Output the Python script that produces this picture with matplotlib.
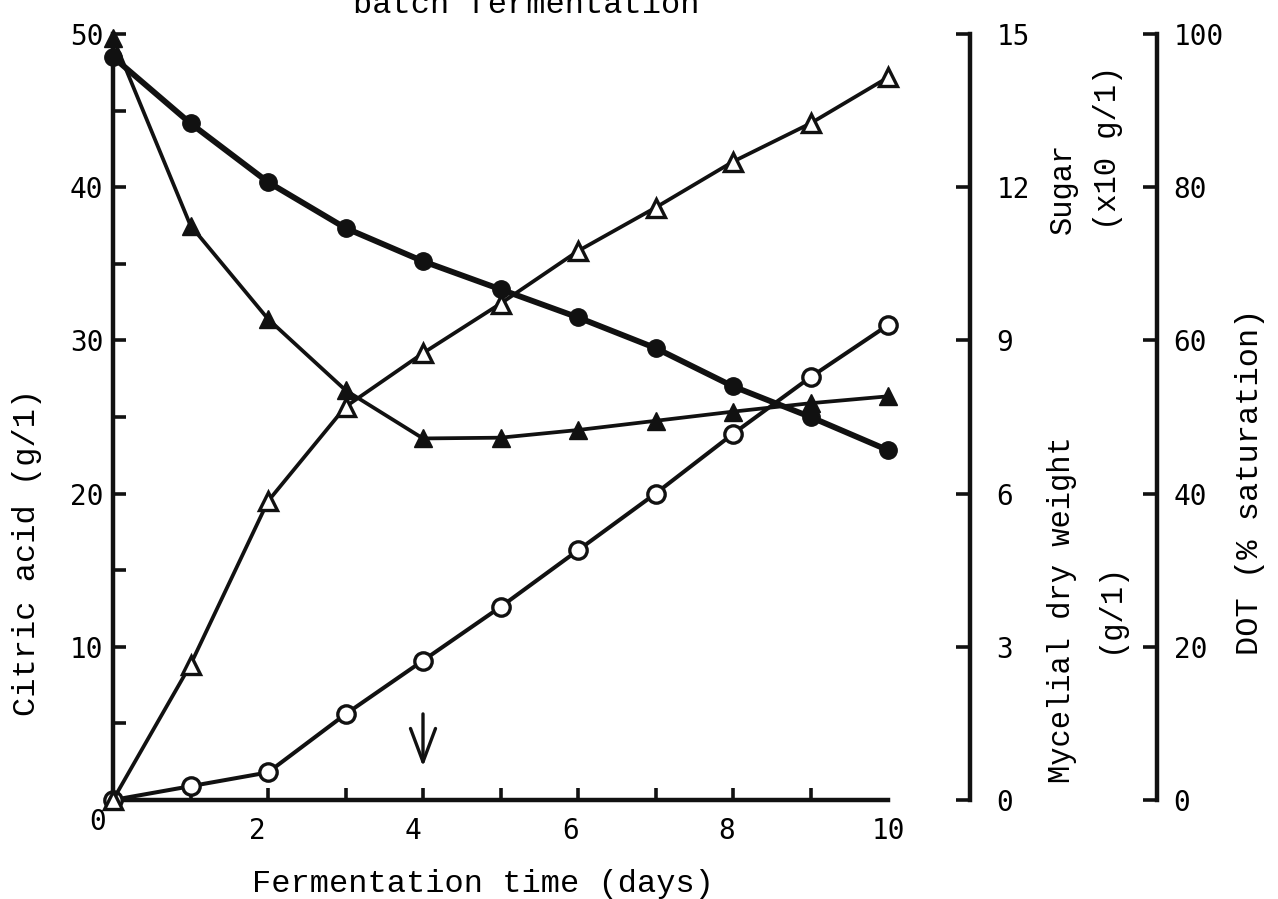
import matplotlib.pyplot as plt

days = [0, 1, 2, 3, 4, 5, 6, 7, 8, 9, 10]
citric_acid = [0, 0.9, 1.8, 5.6, 9.1, 12.6, 16.3, 20.0, 23.9, 27.6, 31.0]        # g/l
sugar = [14.55, 13.25, 12.1, 11.2, 10.55, 10.0, 9.45, 8.85, 8.1, 7.5, 6.85]      # x10 g/l
mycelium = [0, 2.65, 5.85, 7.7, 8.75, 9.72, 10.75, 11.6, 12.5, 13.25, 14.15]     # g/l
dot = [99.5, 75.0, 62.8, 53.5, 47.2, 47.3, 48.3, 49.5, 50.7, 51.8, 52.7]         # % saturation

x_ticks = [0, 1, 2, 3, 4, 5, 6, 7, 8, 9, 10]
# the typed day labels sit a little left of their tick marks in the original
x_label_pos = [1.86, 3.87, 5.9, 7.92, 10.0]
x_labels = ["2", "4", "6", "8", "10"]
left_ticks = [0, 5, 10, 15, 20, 25, 30, 35, 40, 45, 50]
left_labels = ["", "", "10", "", "20", "", "30", "", "40", "", "50"]
sugar_ticks = [0, 3, 6, 9, 12, 15]
dot_ticks = [0, 20, 40, 60, 80, 100]

W, H = 1278, 899
plt.rcParams["font.family"] = "DejaVu Sans Mono"
lab_font = "Liberation Mono"
ink = "#111111"

fig = plt.figure(figsize=(W / 100, H / 100), dpi=100)
ax = fig.add_axes([113 / W, 1 - 800 / H, 775 / W, 766 / H])
ax.set_xlim(0, 10)
ax.set_ylim(0, 50)
ax2 = ax.twinx()
ax2.set_ylim(0, 15)
ax3 = ax.twinx()
ax3.set_ylim(0, 100)

# spines
for s in ["top", "right"]:
    ax.spines[s].set_visible(False)
for a, pos in [(ax2, 1.106), (ax3, 1.347)]:
    for s in ["top", "left", "bottom"]:
        a.spines[s].set_visible(False)
    a.spines["right"].set_position(("axes", pos))
    a.spines["right"].set_linewidth(3.2)
    a.spines["right"].set_color(ink)
for s in ["left", "bottom"]:
    ax.spines[s].set_linewidth(3.2)
    ax.spines[s].set_color(ink)

# data
ax2.plot(days, sugar, color=ink, lw=4.2, marker="o", ms=12.5, mfc=ink, mec=ink, clip_on=False, zorder=3)
ax3.plot(days, dot, color=ink, lw=2.7, marker="^", ms=13.5, mfc=ink, mec=ink, clip_on=False, zorder=3)
ax2.plot(days, mycelium, color=ink, lw=2.7, marker="^", ms=13.5, mfc="white", mec=ink, mew=2.4, clip_on=False, zorder=4)
ax.plot(days, citric_acid, color=ink, lw=2.9, marker="o", ms=12.5, mfc="white", mec=ink, mew=2.4, clip_on=False, zorder=4)

# ticks
ax.set_xticks(x_ticks, minor=True)
ax.set_xticks(x_label_pos)
ax.set_xticklabels(x_labels)
ax.tick_params(axis="x", which="minor", direction="in", length=9, width=2.6, color=ink)
ax.tick_params(axis="x", which="major", length=0, labelsize=20, pad=12)
ax.set_yticks(left_ticks)
ax.set_yticklabels(left_labels)
ax.tick_params(axis="y", direction="in", length=9, width=2.6, labelsize=20, pad=7, color=ink)

ax2.set_yticks(sugar_ticks)
ax2.tick_params(axis="y", direction="in", length=10, width=2.6, labelsize=20, pad=19, color=ink)
ax3.set_yticks(dot_ticks)
ax3.tick_params(axis="y", direction="in", length=10, width=2.6, labelsize=20, pad=12, color=ink)

fig.text(98 / W, 1 - 822 / H, "0", ha="center", va="center", fontsize=20)

# arrow at day 4
ax.annotate("", xy=(4.0, 2.0), xytext=(4.0, 5.8),
            arrowprops=dict(arrowstyle="->, head_length=1.2, head_width=0.45", lw=2.4, color=ink, mutation_scale=20))

# labels
fig.text(526 / W, 1 - 13 / H, "batch fermentation", ha="center", va="baseline", fontsize=23, family=lab_font)
fig.text(483 / W, 1 - 884 / H, "Fermentation time (days)", ha="center", va="center", fontsize=23, family=lab_font)
fig.text(27 / W, 1 - 552 / H, "Citric acid (g/1)", rotation=90, ha="center", va="center", fontsize=23, family=lab_font)
fig.text(1063 / W, 1 - 188 / H, "Sugar", rotation=90, ha="center", va="center", fontsize=22, family=lab_font)
fig.text(1108 / W, 1 - 148 / H, "(x10 g/1)", rotation=90, ha="center", va="center", fontsize=22, family=lab_font)
fig.text(1062 / W, 1 - 610 / H, "Mycelial dry weight", rotation=90, ha="center", va="center", fontsize=22, family=lab_font)
fig.text(1110 / W, 1 - 607 / H, "(g/1)", rotation=90, ha="center", va="center", fontsize=22, family=lab_font)
fig.text(1250 / W, 1 - 482 / H, "DOT (% saturation)", rotation=90, ha="center", va="center", fontsize=23, family=lab_font)

fig.savefig("out.png", dpi=100)
